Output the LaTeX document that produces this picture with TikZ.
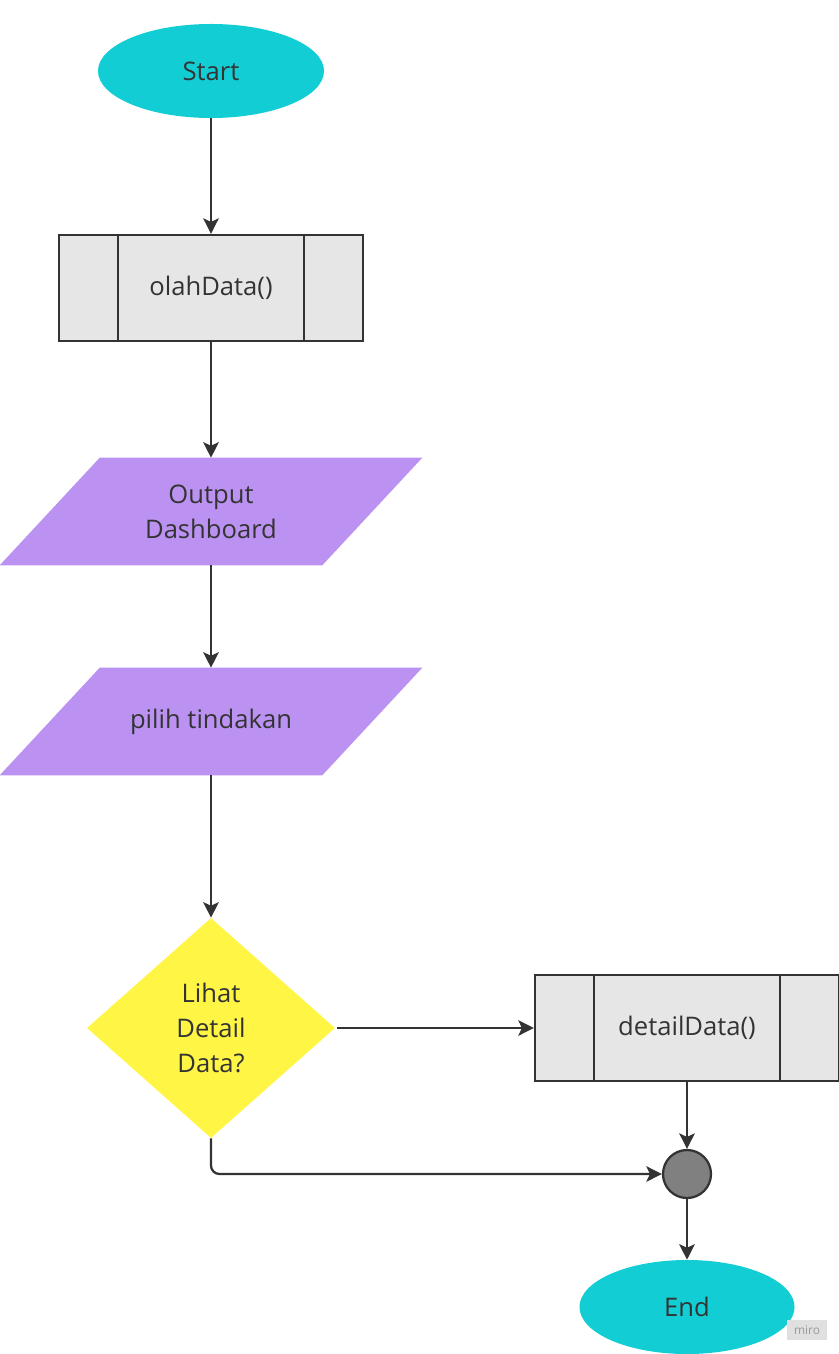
\documentclass[tikz,border=0pt]{standalone}
\usepackage{fontspec}
\setmainfont{Open Sans}
\usepackage{tikz}
\usetikzlibrary{shapes.geometric,arrows.meta,calc,backgrounds}

\definecolor{ink}{HTML}{333333}
\definecolor{startcyan}{HTML}{12CDD4}
\definecolor{boxgray}{HTML}{E6E6E6}
\definecolor{iopurple}{HTML}{BB92F2}
\definecolor{askyellow}{HTML}{FFF545}
\definecolor{jointgray}{HTML}{808080}

\tikzset{
  terminal/.style={ellipse, fill=startcyan, inner sep=0pt, text=ink},
  subproc/.style={rectangle, draw=ink, line width=1.6pt, fill=boxgray,
    minimum width=7.6cm, minimum height=2.65cm, inner sep=0pt, text=ink},
  ioshape/.style={rectangle, minimum width=5.55cm, minimum height=2.675cm,
    inner sep=0pt, align=center, text=ink},
  decision/.style={diamond, fill=askyellow, minimum width=6.2cm,
    minimum height=5.5cm, inner sep=0pt, align=center, text=ink},
  joint/.style={circle, draw=ink, line width=1.6pt, fill=jointgray,
    minimum size=1.2cm, inner sep=0pt},
  arr/.style={draw=ink, line width=1.6pt, -{Stealth[length=11pt,width=11pt,inset=2.5pt]}},
  innerline/.style={draw=ink, line width=1.6pt}
}

\begin{document}
\begin{tikzpicture}[x=0.025cm, y=-0.025cm, font=\fontsize{18.2}{24.9}\selectfont]
      \useasboundingbox (0,0) rectangle (839,1354);

      \node[terminal, minimum width=5.65cm, minimum height=2.35cm](start) at (211, 71){Start};

      \node[subproc](ola) at (211, 288){olahData()};
      \draw [innerline] ($(ola.north west)+(60,0)$) -- ($(ola.south west)+(60,0)$);
      \draw [innerline] ($(ola.north east)+(-60,0)$) -- ($(ola.south east)+(-60,0)$);

      \node[ioshape](outp) at (211, 511.5){Output\\Dashboard};
      \node[ioshape](pilih) at (211, 721.5){pilih tindakan};

      \node[decision](ask) at (211, 1028){Lihat\\Detail\\Data?};

      \node[subproc](det) at (687, 1028){detailData()};
      \draw [innerline] ($(det.north west)+(60,0)$) -- ($(det.south west)+(60,0)$);
      \draw [innerline] ($(det.north east)+(-60,0)$) -- ($(det.south east)+(-60,0)$);

      \node[joint](join) at (687, 1174){};

      \node[terminal, minimum width=5.375cm, minimum height=2.35cm](end) at (687, 1307){End};

      \begin{scope}[on background layer]
        \fill [iopurple] ($(outp.south west)+(-100,0)$) -- (outp.south east)
          -- ($(outp.north east)+(100,0)$) -- (outp.north west) -- cycle;
        \fill [iopurple] ($(pilih.south west)+(-100,0)$) -- (pilih.south east)
          -- ($(pilih.north east)+(100,0)$) -- (pilih.north west) -- cycle;
      \end{scope}

      \draw [arr] (start) -- (ola);
      \draw [arr] (ola) -- (outp);
      \draw [arr] (outp) -- (pilih);
      \draw [arr] (pilih) -- (ask);
      \draw [arr] ($(ask.east)+(2,0)$) -- (det.west);
      \draw [arr] (det) -- (join);
      \draw [arr, rounded corners=6pt] (ask.south) |- (join.west);
      \draw [arr] (join) -- (end);

      \node[fill=black!12, minimum width=1cm, minimum height=0.5cm, inner sep=0pt,
        text=black!40, font=\fontsize{8.5}{10}\selectfont](miro) at (807, 1330){miro};
    \end{tikzpicture}
\end{document}
